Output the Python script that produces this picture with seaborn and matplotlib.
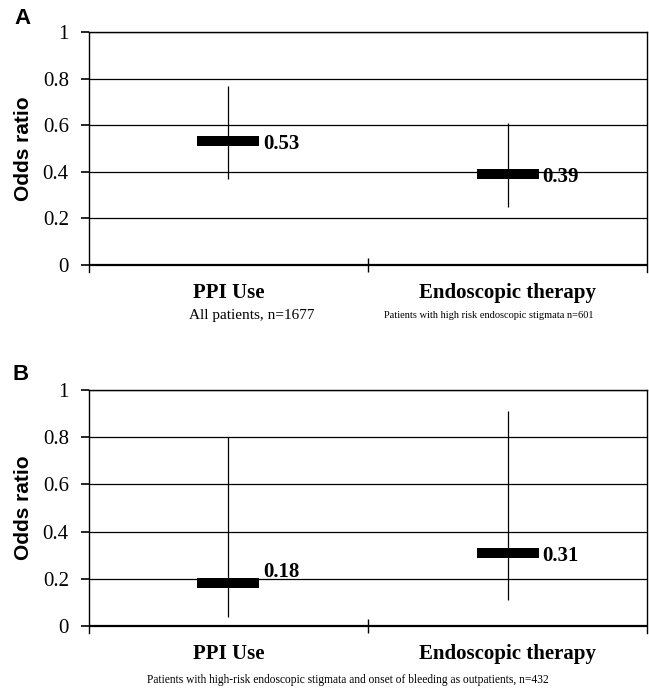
import numpy as np
import pandas as pd
import matplotlib
matplotlib.use("Agg")
import matplotlib.pyplot as plt
import matplotlib.transforms as mtransforms
import seaborn as sns

sns.set_theme(style="white")
plt.rcParams['font.family'] = ['Liberation Serif', 'DejaVu Serif']
plt.rcParams['text.color'] = 'black'
plt.rcParams['axes.labelcolor'] = 'black'
plt.rcParams['xtick.color'] = 'black'
plt.rcParams['ytick.color'] = 'black'

categories = ["PPI Use", "Endoscopic therapy"]
a_or = [0.53, 0.39]
a_low = [0.37, 0.25]
a_high = [0.77, 0.61]
a_sub = ["All patients, n=1677", "Patients with high risk endoscopic stigmata n=601"]
b_or = [0.18, 0.31]
b_low = [0.04, 0.11]
b_high = [0.80, 0.91]
b_sub = "Patients with high-risk endoscopic stigmata and onset of bleeding as outpatients, n=432"
yticks = [0, 0.2, 0.4, 0.6, 0.8, 1]
ytick_labels = ["0", "0.2", "0.4", "0.6", "0.8", "1"]

# label vertical offsets (points) - style only
a_dy = [-2, -2]
b_dy = [8, -2]

fig = plt.figure(figsize=(6.49, 6.88), dpi=100)
axA = fig.add_axes([0.137, 0.6047, 0.860, 0.3488])
axB = fig.add_axes([0.137, 0.0799, 0.860, 0.3532])

bar_marker = [(-3, -0.5), (3, -0.5), (3, 0.5), (-3, 0.5), (-3, -0.5)]

def panel(ax, ors, lows, highs, dys):
    df = pd.DataFrame({"cat": categories, "x": [0, 1], "or": ors,
                       "low": lows, "high": highs})
    ax.vlines(df["x"], df["low"], df["high"], color="black", lw=0.9, zorder=3)
    sns.scatterplot(data=df, x="x", y="or", marker=bar_marker, s=44**2,
                    color="black", edgecolor="black", linewidth=0, ax=ax,
                    zorder=4, legend=False)
    for xi, v, dy in zip(df["x"], df["or"], dys):
        ax.annotate(f"{v:.2f}", (xi, v), xytext=(25, dy), textcoords="offset points",
                    ha="left", va="center", fontsize=15, fontweight="bold",
                    color="black", family=['Liberation Serif'])
    ax.set_xlim(-0.5, 1.5)
    ax.set_ylim(-0.03, 1)
    for yv in yticks[1:]:
        ax.axhline(yv, color="black", lw=0.9, zorder=1)
    ax.axhline(0, color="black", lw=1.6, zorder=2)
    ax.vlines([0.5], -0.03, 0.03, color="black", lw=1.0, clip_on=False)
    ax.set_yticks(yticks)
    ax.set_yticklabels(ytick_labels, fontsize=15)
    ax.tick_params(axis="y", which="major", left=True, length=6, width=1.2,
                   color="black", pad=8.5)
    ax.set_xticks([0, 1])
    ax.set_xticklabels(categories, fontsize=15, fontweight="bold")
    ax.tick_params(axis="x", length=0, pad=8)
    ax.set_xlabel("")
    ax.set_ylabel("")
    for s in ["left", "right", "top"]:
        ax.spines[s].set_visible(True)
        ax.spines[s].set_color("black")
        ax.spines[s].set_linewidth(1.0)
    ax.spines["bottom"].set_visible(False)
    trans = mtransforms.blended_transform_factory(ax.transAxes, ax.transData)
    ax.text(-0.117, 0.5, "Odds ratio", rotation=90, ha="center", va="center",
            transform=trans, fontsize=15, fontweight="bold",
            family=['Liberation Sans'])

panel(axA, a_or, a_low, a_high, a_dy)
panel(axB, b_or, b_low, b_high, b_dy)

fig.text(252 / 649, 1 - 316 / 688, a_sub[0], ha="center", va="center", fontsize=11)
fig.text(489 / 649, 1 - 316 / 688, a_sub[1], ha="center", va="center", fontsize=7.5)
fig.text(348 / 649, 1 - 680 / 688, b_sub, ha="center", va="center", fontsize=8.3)

fig.text(14 / 649, 1 - 18 / 688, "A", ha="left", va="center", fontsize=16,
         fontweight="bold", family=['Liberation Sans'])
fig.text(13 / 649, 1 - 374 / 688, "B", ha="left", va="center", fontsize=16,
         fontweight="bold", family=['Liberation Sans'])

fig.savefig("out.png", dpi=100)
